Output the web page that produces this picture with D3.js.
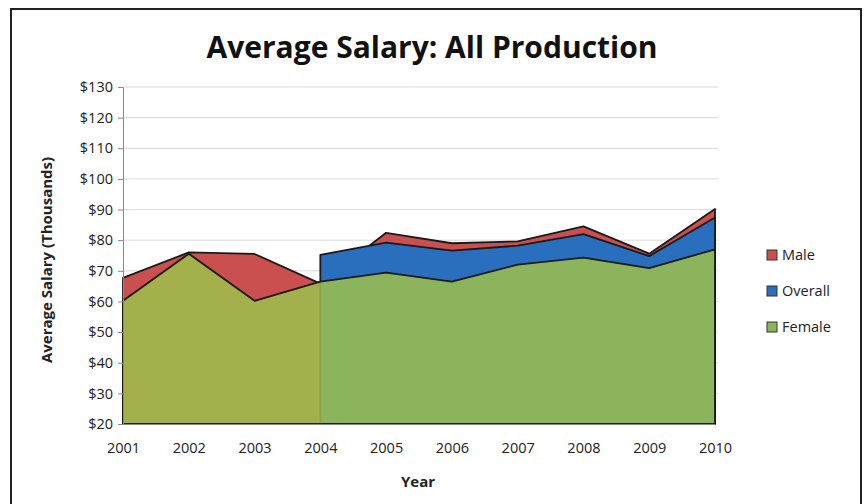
<!DOCTYPE html>
<html lang="en">
<head>
  <meta charset="UTF-8">
  <title>Average Salary: All Production</title>
  <script src="https://d3js.org/d3.v7.min.js"></script>
  <style>
    body { margin: 0; background: #fff; font-family: "Open Sans", sans-serif; }
    .grid line { stroke: #d9d9d9; stroke-width: 1; }
    .tick text { fill: #222; font-size: 14.5px; font-family: "Open Sans", sans-serif; }
    .area { stroke: #1a1a1a; stroke-width: 1.8; stroke-linejoin: round; }
  </style>
</head>
<body>
  <svg width="865" height="504"></svg>
  <script>
    const years   = [2001, 2002, 2003, 2004, 2005, 2006, 2007, 2008, 2009, 2010];
    const male    = [67.7, 76.0, 75.5, 65.8, 82.4, 79.0, 79.6, 84.5, 75.6, 90.2];
    const overall = [null, null, null, 75.2, 79.2, 76.6, 78.2, 82.0, 74.8, 87.4];
    const female  = [60.2, 75.6, 60.2, 66.5, 69.4, 66.5, 72.0, 74.3, 70.9, 77.0];
    const yTicks  = d3.range(20, 131, 10);

    const seriesList = [
      { name: "Male",    values: male,    color: "#c9504e", opacity: 1 },
      { name: "Overall", values: overall, color: "#2a6ebe", opacity: 1 },
      { name: "Female",  values: female,  color: "#9cc14b", opacity: 0.85 }
    ];

    const svg = d3.select("svg");

    // outer frame
    svg.append("rect")
      .attr("x", 11).attr("y", 9).attr("width", 850).attr("height", 500)
      .attr("fill", "none").attr("stroke", "#222").attr("stroke-width", 2);

    const x = d3.scalePoint().domain(years).range([123, 715]);
    const y = d3.scaleLinear().domain([20, 130]).range([424, 87]);

    // gridlines
    svg.append("g").attr("class", "grid")
      .selectAll("line").data(yTicks.slice(1)).enter().append("line")
      .attr("x1", 123).attr("x2", 718)
      .attr("y1", d => y(d)).attr("y2", d => y(d));

    // areas: Male at the back, Female in front
    seriesList.forEach(s => {
      const area = d3.area()
        .defined((d, i) => s.values[i] != null)
        .x((d, i) => x(years[i]))
        .y0(y(20))
        .y1((d, i) => y(s.values[i]));
      svg.append("path")
        .datum(s.values)
        .attr("class", "area")
        .attr("d", area)
        .attr("fill", s.color)
        .attr("fill-opacity", s.opacity);
    });

    // y axis
    const yAxis = svg.append("g")
      .attr("transform", "translate(123,0)")
      .call(d3.axisLeft(y).tickValues(yTicks).tickSize(5).tickPadding(5)
        .tickFormat(d => "$" + d));
    yAxis.attr("font-family", null).attr("font-size", null);
    yAxis.select(".domain").attr("stroke", "#888");
    yAxis.selectAll(".tick line").attr("stroke", "#888");

    // x axis
    const xAxis = svg.append("g")
      .attr("transform", "translate(0,424)")
      .call(d3.axisBottom(x).tickSize(0).tickPadding(19));
    xAxis.attr("font-family", null).attr("font-size", null);
    xAxis.select(".domain").attr("stroke", "#888");

    // title
    svg.append("text")
      .attr("x", 432).attr("y", 58)
      .attr("text-anchor", "middle")
      .attr("font-size", 30).attr("font-weight", "bold").attr("fill", "#111")
      .text("Average Salary: All Production");

    // axis titles
    svg.append("text")
      .attr("x", 418).attr("y", 487)
      .attr("text-anchor", "middle")
      .attr("font-size", 15).attr("font-weight", "bold").attr("fill", "#222")
      .text("Year");

    svg.append("text")
      .attr("transform", "translate(52,260) rotate(-90)")
      .attr("text-anchor", "middle")
      .attr("font-size", 15).attr("font-weight", "bold").attr("fill", "#222")
      .text("Average Salary (Thousands)");

    // legend
    const legend = svg.append("g").attr("transform", "translate(767,250)");
    seriesList.forEach((s, i) => {
      const g = legend.append("g").attr("transform", `translate(0,${i * 36})`);
      g.append("rect")
        .attr("width", 10).attr("height", 10)
        .attr("fill", s.name === "Female" ? "#8bb55c" : s.color)
        .attr("stroke", "#333").attr("stroke-width", 1);
      g.append("text")
        .attr("x", 15).attr("y", 10)
        .attr("font-size", 14.5).attr("fill", "#222")
        .text(s.name);
    });
  </script>
</body>
</html>
